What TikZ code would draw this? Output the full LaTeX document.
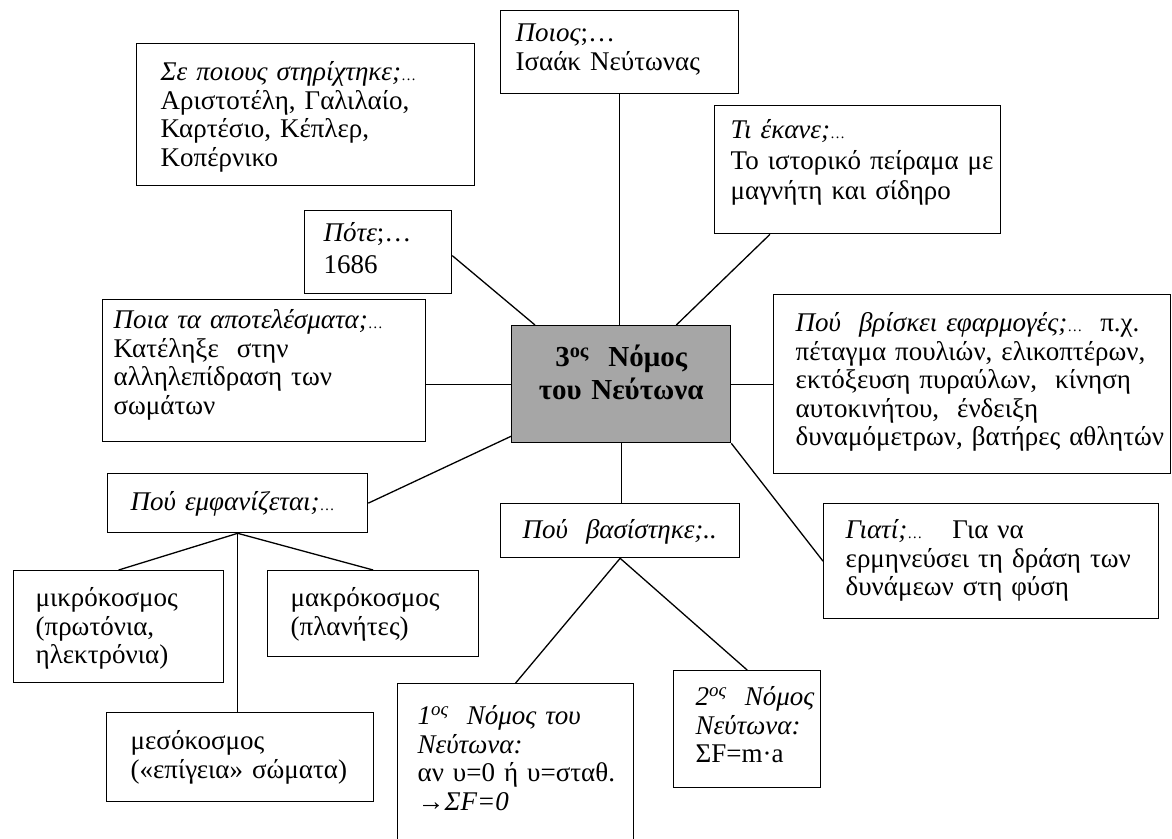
\documentclass[tikz,border=0pt]{standalone}
\usepackage{fontspec}
\setmainfont{Liberation Serif}
\usepackage{tikz}

\definecolor{lawgray}{RGB}{166,166,166}
\newcommand{\sdots}{{\fontsize{15}{15}\selectfont\ldots}}

\begin{document}
\begin{tikzpicture}[
		x=1pt, y=-1pt,
		qbox/.style={draw, rectangle, line width=1.3pt, anchor=north west, align=left,
			inner sep=0pt, font=\fontsize{27}{28.5}\selectfont},
		lpad/.style={execute at begin node={\leftskip=#1}},
		hub/.style={qbox, fill=lawgray, align=center,
			font=\bfseries\fontsize{29}{33}\selectfont},
		link/.style={line width=1.3pt}
	]
  \useasboundingbox (0,0) rectangle (1172,838);
  % the law in the middle
  \node (law) [hub, text width=219pt, text height=41pt, text depth=76pt] at (511, 325)
    {3\textsuperscript{ος}\ \ Νόμος\\ του Νεύτωνα};
  % questions round it
  \node (who) [qbox, lpad=15pt, text width=238pt, text height=31pt, text depth=52pt] at (500, 10)
    {\textit{Ποιος};\ldots\\ Ισαάκ Νεύτωνας};
  \node (whom) [qbox, lpad=24pt, text width=338pt, text height=37pt, text depth=105pt] at (136, 43)
    {\textit{Σε ποιους στηρίχτηκε;}\sdots\\ Αριστοτέλη, Γαλιλαίο,\\ Καρτέσιο, Κέπλερ,\\ Κοπέρνικο};
  \node (what) [qbox, lpad=16pt, text width=286pt, text height=33pt, text depth=95pt] at (714, 105)
    {\textit{Τι έκανε;}\sdots\\[2pt] Το ιστορικό πείραμα με\\[2pt] μαγνήτη και σίδηρο};
  \node (when) [qbox, lpad=19pt, text width=147pt, text height=31pt, text depth=52pt] at (304, 210)
    {\textit{Πότε};\ldots\\[3pt] 1686};
  \node (result) [qbox, lpad=11pt, text width=323pt, text height=29pt, text depth=113pt] at (102, 299)
    {\textit{Ποια τα αποτελέσματα;}\sdots\\ Κατέληξε\ \ στην\\ αλληλεπίδραση των\\ σωμάτων};
  \node (apps) [qbox, lpad=22pt, text width=397pt, text height=37pt, text depth=142pt] at (773, 294)
    {\textit{Πού\ \ βρίσκει εφαρμογές;}\sdots\ \ π.χ.\\ πέταγμα πουλιών, ελικοπτέρων,\\
     εκτόξευση πυραύλων,\ \ κίνηση\\ αυτοκινήτου,\ \ ένδειξη\\ δυναμόμετρων, βατήρες αθλητών};
  \node (why) [qbox, lpad=22pt, text width=335pt, text height=35pt, text depth=80pt] at (823, 503)
    {\textit{Γιατί;}\sdots\hspace{30pt}Για να\\ ερμηνεύσει τη δράση των\\ δυνάμεων στη φύση};
  \node (where) [qbox, lpad=23pt, text width=260pt, text height=37pt, text depth=22pt] at (107, 473)
    {\textit{Πού εμφανίζεται;}\sdots};
  \node (based) [qbox, lpad=22pt, text width=239pt, text height=35pt, text depth=19pt] at (500, 503)
    {\textit{Πού\ \ βασίστηκε;..}};
  % where it shows up
  \node (micro) [qbox, lpad=22pt, text width=210pt, text height=36pt, text depth=76pt] at (13, 570)
    {μικρόκοσμος\\ (πρωτόνια,\\ ηλεκτρόνια)};
  \node (macro) [qbox, lpad=23pt, text width=211pt, text height=36pt, text depth=50pt] at (267, 570)
    {μακρόκοσμος\\ (πλανήτες)};
  \node (meso) [qbox, lpad=24pt, text width=267pt, text height=37pt, text depth=52pt] at (106, 712)
    {μεσόκοσμος\\ («επίγεια» σώματα)};
  % what it rests on
  \node (first) [qbox, lpad=20pt, text width=236pt, text height=41pt, text depth=125pt] at (397, 683)
    {\textit{1\textsuperscript{ος}\ \ Νόμος του}\\ \textit{Νεύτωνα:}\\ αν υ=0 ή υ=σταθ.\\ \textit{→ΣF=0}};
  \node (second) [qbox, lpad=22pt, text width=147pt, text height=35pt, text depth=82pt] at (673, 670)
    {\textit{2\textsuperscript{ος}\ \ Νόμος}\\ \textit{Νεύτωνα:}\\ ΣF=m·a};

  \draw [link] (who.south) -- (who.south |- law.north);
  \draw [link] ([yshift=-3.5pt]when.east) -- ([xshift=24pt]law.north west);
  \draw [link] ([xshift=-55pt]law.north east) -- ([xshift=56pt]what.south west);
  \draw [link] (law.west) -- (law.west -| result.east);
  \draw [link] (law.east) -- (apps.west);
  \draw [link] (where.east) -- ([yshift=7pt]law.south west);
  \draw [link] (law.south) -- (law.south |- based.north);
  \draw [link] (law.south east) -- (why.west);
  \draw [link] (where.south) -- (micro.north);
  \draw [link] (where.south) -- (macro.north);
  \draw [link] (where.south) -- (where.south |- meso.north);
  \draw [link] (based.south) -- (first.north);
  \draw [link] (based.south) -- (second.north);
\end{tikzpicture}
\end{document}
